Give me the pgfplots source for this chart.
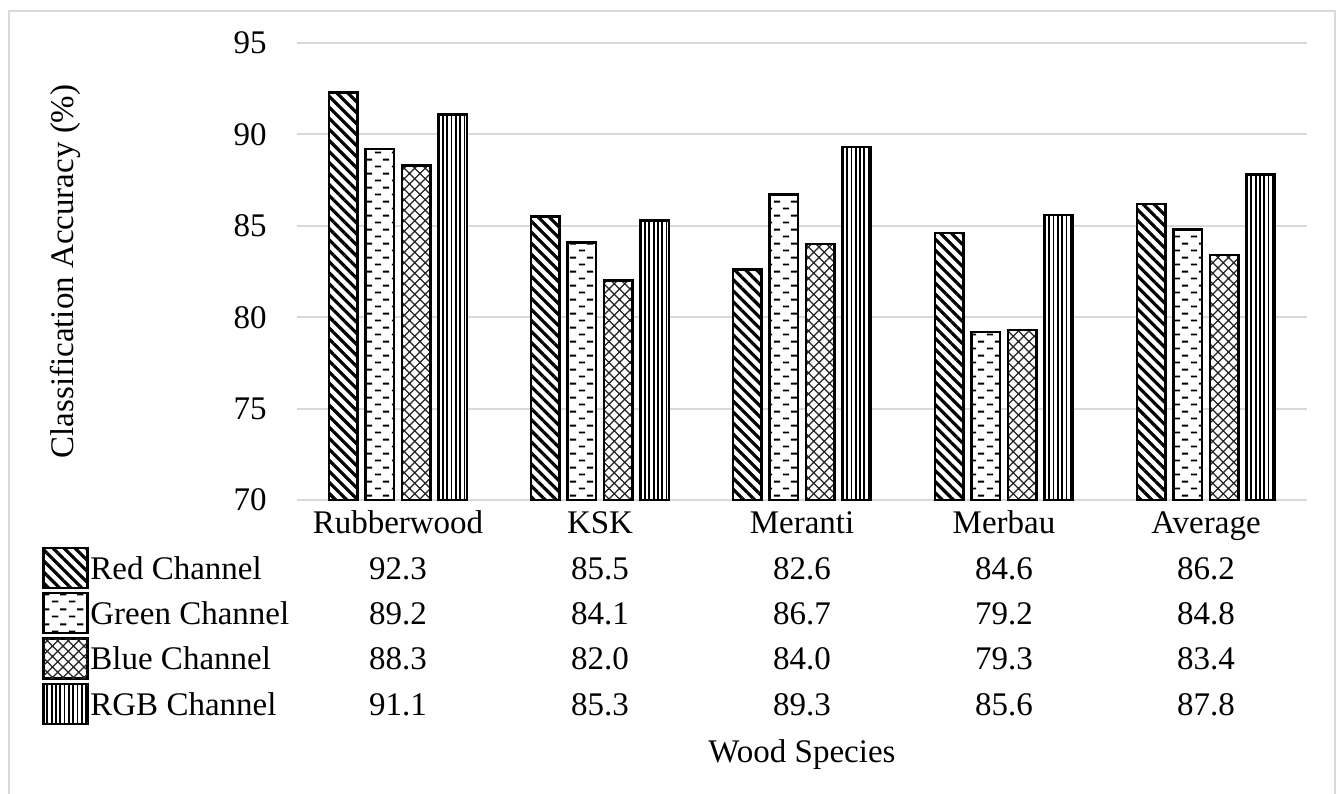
\documentclass[border=0pt]{standalone}
\usepackage{fontspec}
\setmainfont{Liberation Serif}
\usepackage{pgfplots}
\usepackage{pgfplotstable}
\pgfplotsset{compat=1.18}
\usetikzlibrary{patterns,patterns.meta}

\definecolor{gridgray}{HTML}{D9D9D9}
\newcommand\chartfont{\fontsize{16.5}{19.8}\selectfont}

% staggered short horizontal dashes
\pgfdeclarepatternformonly{dashrows}{\pgfpointorigin}{\pgfpoint{8.5pt}{7.2pt}}{\pgfpoint{8.5pt}{7.2pt}}{%
  \pgfsetlinewidth{1pt}%
  \pgfpathmoveto{\pgfpoint{0.5pt}{1.8pt}}\pgfpathlineto{\pgfpoint{3.8pt}{1.8pt}}%
  \pgfpathmoveto{\pgfpoint{4.75pt}{5.4pt}}\pgfpathlineto{\pgfpoint{8.05pt}{5.4pt}}%
  \pgfusepath{stroke}}
% thin diagonal cross-hatch
\pgfdeclarepatternformonly{diagcross}{\pgfpoint{-0.5pt}{-0.5pt}}{\pgfpoint{5.75pt}{5.75pt}}{\pgfpoint{5.25pt}{5.25pt}}{%
  \pgfsetlinewidth{0.6pt}%
  \pgfpathmoveto{\pgfpoint{-0.5pt}{-0.5pt}}\pgfpathlineto{\pgfpoint{5.75pt}{5.75pt}}%
  \pgfpathmoveto{\pgfpoint{-0.5pt}{5.75pt}}\pgfpathlineto{\pgfpoint{5.75pt}{-0.5pt}}%
  \pgfusepath{stroke}}

\tikzset{
  barbase/.style={draw=black, line width=1.3pt, fill=white},
  redfill/.style={barbase, postaction={pattern={Lines[angle=-45,distance=3.9pt,line width=1.6pt]}}},
  greenfill/.style={barbase, postaction={pattern=dashrows}},
  bluefill/.style={barbase, postaction={pattern=diagcross, pattern color=black!85}},
  rgbfill/.style={barbase, postaction={pattern={Lines[angle=90,distance=2.15pt,line width=0.9pt]}}},
}

% classification accuracy (%) per wood species
\pgfplotstableread{
x red green blue rgb
0 92.3 89.2 88.3 91.1
1 85.5 84.1 82.0 85.3
2 82.6 86.7 84.0 89.3
3 84.6 79.2 79.3 85.6
4 86.2 84.8 83.4 87.8
}\accdata

\begin{document}
\chartfont
\begin{tikzpicture}[font=\chartfont]
\useasboundingbox (0,0) rectangle (668.5pt,396.5pt);
% outer frame
\draw[gridgray, line width=1pt] (4.25pt,-2pt) -- (4.25pt,391pt) -- (667.5pt,391pt) -- (667.5pt,-2pt);

\begin{axis}[
  at={(148.5pt,146.5pt)}, anchor=south west,
  scale only axis, width=505pt, height=228.5pt,
  xmin=-0.5, xmax=4.5, ymin=70, ymax=95,
  ytick={70,75,...,95},
  xtick={0,...,4},
  xticklabels={Rubberwood,KSK,Meranti,Merbau,Average},
  axis line style={draw=none},
  major tick length=0pt,
  ymajorgrids,
  grid style={line width=1pt, draw=gridgray},
  tick label style={font=\chartfont},
  yticklabel style={anchor=east, inner sep=0pt, xshift=-15pt},
  xticklabel style={anchor=base, inner sep=0pt, yshift=-16.5pt},
  /pgf/number format/assume math mode=true,
]
\addplot[ybar, bar width=14.2pt, bar shift=-27.375pt, redfill]   table[x=x, y=red]   {\accdata};
\addplot[ybar, bar width=14.2pt, bar shift=-9.125pt,  greenfill] table[x=x, y=green] {\accdata};
\addplot[ybar, bar width=14.2pt, bar shift=9.125pt,   bluefill]  table[x=x, y=blue]  {\accdata};
\addplot[ybar, bar width=14.2pt, bar shift=27.375pt,  rgbfill]   table[x=x, y=rgb]   {\accdata};
\end{axis}

% data table below the bars
\foreach \col/\sty/\name/\yb in {red/redfill/Red Channel/107pt, green/greenfill/Green Channel/84.5pt, blue/bluefill/Blue Channel/61.75pt, rgb/rgbfill/RGB Channel/39pt}{%
  \draw[\sty, line width=1.4pt] (21.75pt,{\yb-4.5pt}) rectangle (43.75pt,{\yb+15.5pt});
  \node[anchor=base west, inner sep=0pt] at (45pt,\yb) {\name};
  \foreach \i in {0,...,4}{%
    \pgfplotstablegetelem{\i}{\col}\of\accdata
    \node[anchor=base, inner sep=0pt] at ({199pt+101pt*\i},\yb)
      {\pgfmathprintnumber[fixed,zerofill,precision=1,assume math mode=true]{\pgfplotsretval}};
  }
}

\node[anchor=base, inner sep=0pt] at (401pt,15.2pt) {Wood Species};
\node[rotate=90, anchor=base, inner sep=0pt] at (36.5pt,260.75pt) {Classification Accuracy (\%)};
\end{tikzpicture}
\end{document}
